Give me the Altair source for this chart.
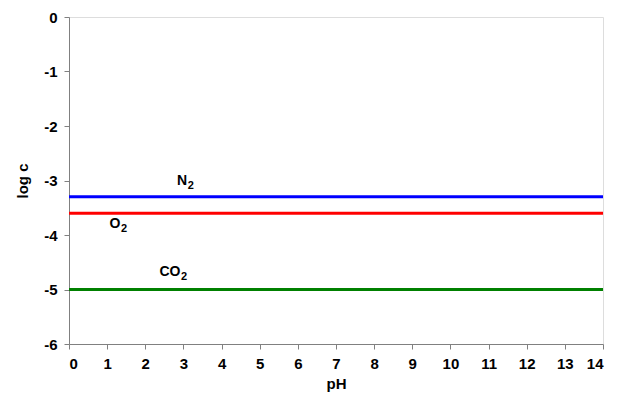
import altair as alt
import pandas as pd

species = ["N2", "O2", "CO2"]
log_c = [-3.3, -3.6, -5.0]
colors = ["#0000FF", "#FF0000", "#008000"]
ph_range = [0, 14]
x_ticks = list(range(0, 15))
y_ticks = list(range(-6, 1))

label_main = ["N", "O", "CO"]
label_sub = ["2", "2", "2"]
label_ph = [3.1, 1.35, 2.92]
label_y = [-3.08, -3.88, -4.76]

rows = []
for s, v in zip(species, log_c):
    for p in ph_range:
        rows.append({"species": s, "pH": p, "logc": v})
lines_df = pd.DataFrame(rows)
lab_df = pd.DataFrame({"species": species, "main": label_main, "sub": label_sub,
                       "pH": label_ph, "logc": label_y})

font = "Liberation Sans"
fs = 15
xscale = alt.Scale(domain=[0, 14], nice=False, zero=False)
yscale = alt.Scale(domain=[-6, 0], nice=False, zero=False)
cscale = alt.Scale(domain=species, range=colors)

xaxis = alt.Axis(values=x_ticks, grid=False, tickSize=5,
                 labelExpr="'' + datum.value", labelOverlap=False,
                 domainColor="#808080", tickColor="#808080",
                 labelFont=font, labelFontSize=fs, labelFontWeight="bold",
                 labelColor="black", labelPadding=7,
                 titleFont=font, titleFontSize=fs, titleFontWeight="bold",
                 titleColor="black", titlePadding=5)
yaxis = alt.Axis(values=y_ticks, grid=False, tickSize=5,
                 labelExpr="'' + datum.value", labelOverlap=False,
                 domainColor="#808080", tickColor="#808080",
                 labelFont=font, labelFontSize=fs, labelFontWeight="bold",
                 labelColor="black", labelPadding=7,
                 titleFont=font, titleFontSize=fs, titleFontWeight="bold",
                 titleColor="black", titlePadding=13)

X = alt.X("pH:Q", scale=xscale, title="pH", axis=xaxis)
Y = alt.Y("logc:Q", scale=yscale, title="log c", axis=yaxis)

lines = alt.Chart(lines_df).mark_line(strokeWidth=3, clip=True).encode(
    x=X, y=Y,
    color=alt.Color("species:N", scale=cscale, legend=None),
    detail="species:N",
)

main_text = alt.Chart(lab_df).mark_text(font=font, fontSize=14, fontWeight="bold",
                                         color="black", align="right", baseline="alphabetic").encode(
    x=X, y=Y, text="main:N",
)
sub_text = alt.Chart(lab_df).mark_text(font=font, fontSize=11, fontWeight="bold",
                                        color="black", align="left", baseline="alphabetic",
                                        dx=0.5, dy=4).encode(
    x=X, y=Y, text="sub:N",
)

chart = (lines + main_text + sub_text).properties(
    width=534, height=327,
    autosize=alt.AutoSizeParams(type="none"),
    padding={"left": 61, "top": 9, "right": 9, "bottom": 53}
).configure_view(stroke=None).configure(background="white")
chart.save("out.html", embed_options={"renderer": "svg", "actions": False})
